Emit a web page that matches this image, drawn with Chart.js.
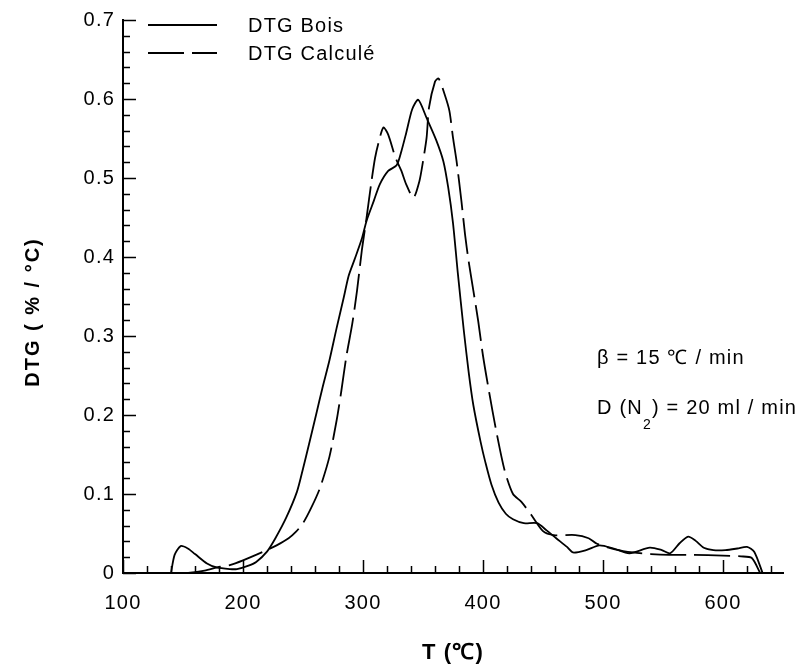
<!DOCTYPE html>
<html>
<head>
<meta charset="utf-8">
<script src="https://cdn.jsdelivr.net/npm/chart.js@4.4.0/dist/chart.umd.min.js"></script>
<style>
  html, body { margin: 0; padding: 0; background: #fff; }
  #chart { display: block; }
</style>
</head>
<body>
<canvas id="chart" width="799" height="666"></canvas>
<script>
// DTG of wood (measured) vs calculated DTG, beta = 15 C/min under N2
const seriesNames = ['DTG Bois', 'DTG Calculé'];

const tempBois = [140, 143, 148, 154, 160, 170, 178, 189, 195, 204, 211, 220, 227, 236, 245, 250, 255, 261, 266, 272,
  278, 284, 288, 293, 299, 303, 309, 314, 321, 328, 332, 336, 341, 346, 353, 361, 367, 371, 375, 379,
  384, 388, 392, 398, 402, 407, 413, 419, 425, 434, 445, 453, 461, 470, 475, 486, 497, 509, 522, 539,
  549, 556, 564, 571, 577, 584, 592, 602, 612, 620, 626, 633];
const dtgBois = [0, 0.023, 0.034, 0.031, 0.024, 0.012, 0.007, 0.005, 0.005, 0.009, 0.014, 0.027, 0.044, 0.070, 0.103, 0.132, 0.163, 0.201, 0.233, 0.269,
  0.310, 0.349, 0.376, 0.397, 0.423, 0.446, 0.471, 0.492, 0.509, 0.516, 0.534, 0.557, 0.587, 0.599, 0.576, 0.548, 0.521, 0.488, 0.443, 0.380,
  0.307, 0.255, 0.212, 0.166, 0.140, 0.112, 0.089, 0.075, 0.068, 0.063, 0.063, 0.054, 0.044, 0.033, 0.026, 0.029, 0.035, 0.031, 0.025, 0.032,
  0.029, 0.025, 0.038, 0.046, 0.041, 0.032, 0.029, 0.029, 0.031, 0.033, 0.027, 0];

const tempCalc = [152, 160, 168, 181, 189, 200, 217, 228, 238, 244, 250, 257, 264, 272, 278, 282, 286, 291, 295, 299,
  303, 307, 310, 313, 317, 321, 327, 332, 336, 342, 347, 350, 353, 355, 360, 363, 368, 372, 375, 378,
  382, 385, 388, 392, 396, 400, 405, 411, 418, 425, 432, 440, 450, 459, 477, 488, 495, 510, 525, 540,
  555, 575, 600, 615, 624, 631];
const dtgCalc = [0, 0.001, 0.003, 0.008, 0.010, 0.016, 0.027, 0.035, 0.044, 0.052, 0.063, 0.083, 0.107, 0.147, 0.193, 0.231, 0.273, 0.315, 0.357, 0.408,
  0.450, 0.495, 0.525, 0.545, 0.564, 0.555, 0.526, 0.509, 0.492, 0.475, 0.496, 0.521, 0.551, 0.589, 0.622, 0.626, 0.606, 0.585, 0.551, 0.521,
  0.471, 0.429, 0.395, 0.357, 0.319, 0.275, 0.230, 0.180, 0.130, 0.100, 0.090, 0.074, 0.053, 0.048, 0.048, 0.044, 0.037, 0.030, 0.026, 0.024,
  0.023, 0.023, 0.022, 0.021, 0.019, 0];

const xTicks = [100, 200, 300, 400, 500, 600];
const yTicks = [0, 0.1, 0.2, 0.3, 0.4, 0.5, 0.6, 0.7];
const yTitle = 'DTG ( % / °C)';

const FONT = "'Liberation Sans', Arial, sans-serif";
Chart.defaults.font.family = FONT;
Chart.defaults.color = '#000';

function toPoints(xs, ys) {
  return xs.map((x, i) => ({ x: x, y: ys[i] }));
}

// wide old-style text
const spacing = {
  id: 'spacing',
  beforeLayout(chart) { chart.ctx.letterSpacing = '1.2px'; },
  beforeDraw(chart) { chart.ctx.letterSpacing = '1.2px'; }
};

// tick marks pointing into the plot, minor every 20 C / 0.02
const innerTicks = {
  id: 'innerTicks',
  afterDatasetsDraw(chart) {
    const ctx = chart.ctx;
    const xs = chart.scales.x, ys = chart.scales.y;
    const area = chart.chartArea;
    ctx.save();
    ctx.strokeStyle = '#000';
    ctx.lineWidth = 1.5;
    ctx.beginPath();
    for (let t = 100; t <= 640; t += 20) {
      const px = Math.round(xs.getPixelForValue(t)) + 0.5;
      const len = t % 100 === 0 ? 13 : 7;
      ctx.moveTo(px, area.bottom);
      ctx.lineTo(px, area.bottom - len);
    }
    for (let k = 0; k <= 35; k++) {
      const py = Math.round(ys.getPixelForValue(k * 0.02)) + 0.5;
      const len = k % 5 === 0 ? 13 : 7;
      ctx.moveTo(area.left, py);
      ctx.lineTo(area.left + len, py);
    }
    ctx.stroke();
    ctx.restore();
  }
};

const legendBox = {
  id: 'legendBox',
  afterDraw(chart) {
    const ctx = chart.ctx;
    const rows = [25, 53];
    ctx.save();
    ctx.strokeStyle = '#000';
    ctx.lineWidth = 1.8;
    ctx.fillStyle = '#000';
    ctx.font = '20px ' + FONT;
    ctx.textBaseline = 'middle';
    chart.data.datasets.forEach((ds, i) => {
      ctx.setLineDash(ds.borderDash || []);
      ctx.beginPath();
      ctx.moveTo(148, rows[i]);
      ctx.lineTo(217, rows[i]);
      ctx.stroke();
      ctx.fillText(ds.label, 248, rows[i] + 1);
    });
    ctx.restore();
  }
};

const notes = {
  id: 'notes',
  afterDraw(chart) {
    const ctx = chart.ctx;
    ctx.save();
    ctx.fillStyle = '#000';
    ctx.textBaseline = 'middle';
    ctx.font = '20px ' + FONT;
    ctx.fillText('\u03B2 = 15 \u2103 / min', 597, 358);
    let x = 597;
    ctx.fillText('D (N', x, 408);
    x += ctx.measureText('D (N').width;
    ctx.font = '14px ' + FONT;
    ctx.fillText('2', x, 425);
    x += ctx.measureText('2').width;
    ctx.font = '20px ' + FONT;
    ctx.fillText(') = 20 ml / min', x, 408);

    // vertical axis title
    ctx.translate(33, 312);
    ctx.rotate(-Math.PI / 2);
    ctx.letterSpacing = '2px';
    ctx.textAlign = 'center';
    ctx.font = 'bold 20px ' + FONT;
    ctx.fillText(yTitle, 0, 0);
    ctx.restore();
  }
};

new Chart(document.getElementById('chart'), {
  type: 'line',
  data: {
    datasets: [{
      label: seriesNames[0],
      data: toPoints(tempBois, dtgBois),
      borderColor: '#000',
      borderWidth: 1.8,
      pointRadius: 0,
      tension: 0.25,
      fill: false
    }, {
      label: seriesNames[1],
      data: toPoints(tempCalc, dtgCalc),
      borderColor: '#000',
      borderWidth: 1.8,
      borderDash: [36, 8],
      pointRadius: 0,
      tension: 0.25,
      fill: false
    }]
  },
  options: {
    responsive: false,
    animation: false,
    layout: { padding: { top: 18, right: 16, left: 0, bottom: 0 } },
    plugins: {
      legend: { display: false },
      tooltip: { enabled: false }
    },
    scales: {
      x: {
        type: 'linear',
        min: 100,
        max: 650,
        afterFit(scale) { scale.height = 93; },
        afterBuildTicks(scale) { scale.ticks = xTicks.map(v => ({ value: v })); },
        ticks: { font: { size: 20 }, padding: 18, maxRotation: 0 },
        grid: { display: true, drawOnChartArea: false, drawTicks: false },
        border: { display: true, color: '#000', width: 2 },
        title: {
          display: true,
          text: 'T (\u2103)',
          font: { size: 22, weight: 'bold' },
          padding: { top: 0, bottom: 0 }
        }
      },
      y: {
        min: 0,
        max: 0.7,
        afterFit(scale) { scale.width = 123; },
        afterBuildTicks(scale) { scale.ticks = yTicks.map(v => ({ value: v })); },
        ticks: {
          font: { size: 20 },
          padding: 8,
          callback: v => (v === 0 ? '0' : v.toFixed(1))
        },
        grid: { display: true, drawOnChartArea: false, drawTicks: false },
        border: { display: true, color: '#000', width: 2 }
      }
    }
  },
  plugins: [spacing, innerTicks, legendBox, notes]
});
</script>
</body>
</html>
